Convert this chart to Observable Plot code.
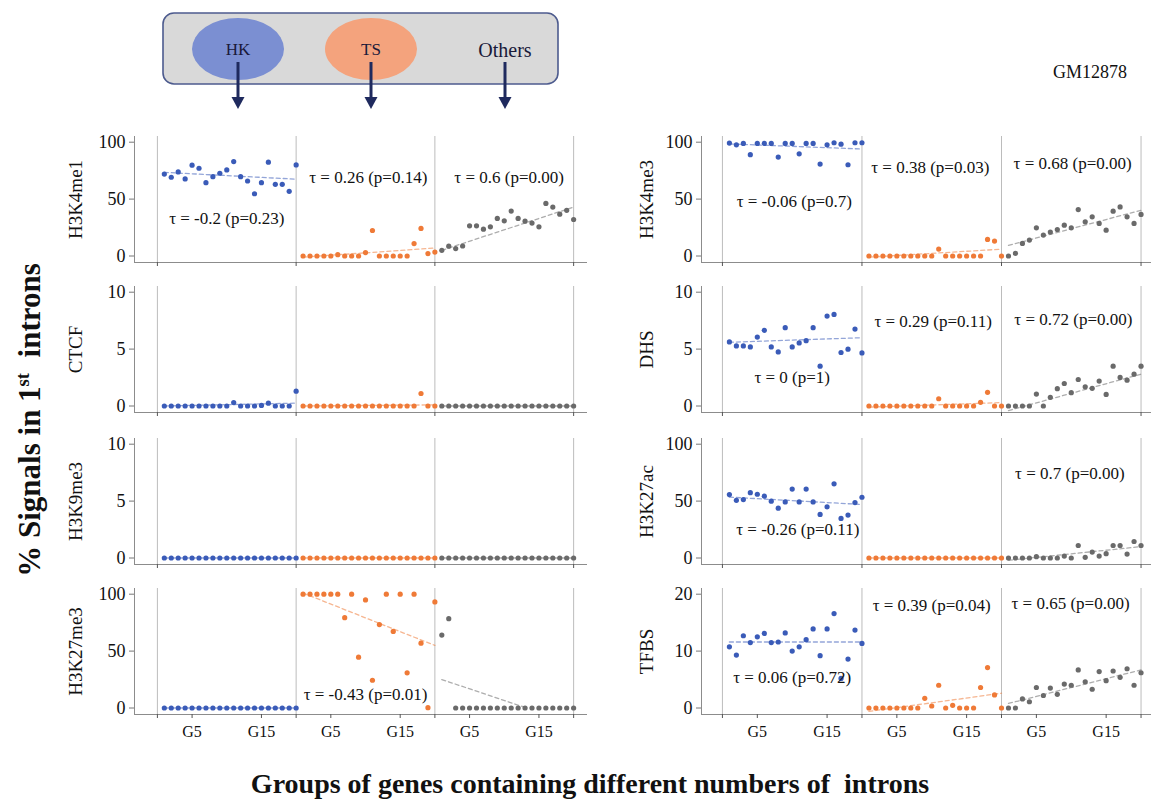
<!DOCTYPE html>
<html><head><meta charset="utf-8">
<script src="https://cdn.jsdelivr.net/npm/d3@7"></script>
<script src="https://cdn.jsdelivr.net/npm/@observablehq/plot@0.6"></script>
<style>
body{margin:0;background:#fff;}
#root{position:relative;width:1153px;height:799px;overflow:hidden;background:#fff;font-family:"Liberation Serif","Times New Roman",serif;color:#111;}
.panel{position:absolute;}
.panel svg{overflow:visible;}
.lbl{position:absolute;white-space:nowrap;transform:translate(-50%,-50%);}
sup{font-size:60%;vertical-align:super;line-height:0;}
</style></head><body><div id="root"></div>
<script>
// ---------- data ----------
const groups = ["HK", "TS", "Others"];
const cellLine = "GM12878";
const gTickLabels = ["G5", "G15"];

const h3k4me1HK = [72, 69.2, 73.9, 67.7, 79.8, 77.1, 64.4, 69.7, 72.7, 75.6, 83, 69.7, 65.9, 54.7, 64.4, 82.4, 63, 63, 56.8, 80];
const h3k4me1TS = [0, 0, 0, 0, 0, 1.2, 0, 0, 0, 3, 22.4, 0, 0, 0, 0, 0, 10.9, 24.2, 2.1, 3.5];
const h3k4me1Others = [5, 8.6, 6.5, 8.8, 26.5, 26.5, 23.6, 25.6, 33, 30.9, 39.5, 33, 30.6, 28.9, 25.6, 46.2, 43, 36.8, 40.1, 32.1];
const h3k4me1Trend = [[1, 73.5, 20, 67.5], [1, -1, 20, 7], [1, 5, 20, 43]];
const h3k4me1Notes = ["τ = -0.2 (p=0.23)", "τ = 0.26 (p=0.14)", "τ = 0.6 (p=0.00)"];

const h3k4me3HK = [99.2, 97.7, 98.9, 89, 98.9, 98.9, 98.9, 86.9, 98.9, 98.9, 89.8, 98.9, 98.9, 80.8, 97.7, 99.5, 98.3, 80.2, 99.5, 99.5];
const h3k4me3TS = [0, 0, 0, 0, 0, 0, 0, 0, 0, 0, 6.1, 0, 0, 0, 0, 0, 0, 14.6, 13.1, 0];
const h3k4me3Others = [0, 2.3, 11.1, 14, 24.8, 18.4, 21, 23.3, 27.1, 24.8, 40.8, 30, 34.4, 28.6, 22.7, 39.4, 43.1, 34.4, 28.6, 36.5];
const h3k4me3Trend = [[1, 98.5, 20, 94], [1, -1, 20, 6], [1, 9.3, 20, 40.2]];
const h3k4me3Notes = ["τ = -0.06 (p=0.7)", "τ = 0.38 (p=0.03)", "τ = 0.68 (p=0.00)"];

const ctcfHK = [0, 0, 0, 0, 0, 0, 0, 0, 0, 0, 0.3, 0, 0, 0, 0.05, 0.25, 0, 0, 0, 1.3];
const ctcfTS = [0, 0, 0, 0, 0, 0, 0, 0, 0, 0, 0, 0, 0, 0, 0, 0, 0, 1.1, 0, 0];
const ctcfOthers = [0, 0, 0, 0, 0, 0, 0, 0, 0, 0, 0, 0, 0, 0, 0, 0, 0, 0, 0, 0];
const ctcfTrend = [[1, 0, 20, 0.25], [1, 0, 20, 0.1], [1, 0, 20, 0]];
const ctcfNotes = [];

const dhsHK = [5.63, 5.28, 5.28, 5.19, 6.06, 6.65, 5.19, 4.75, 6.88, 5.19, 5.54, 5.74, 6.88, 3.5, 7.9, 8.05, 4.7, 4.99, 6.76, 4.66];
const dhsTS = [0, 0, 0, 0, 0, 0, 0, 0, 0, 0, 0.64, 0, 0, 0, 0, 0, 0.32, 1.2, 0, 0];
const dhsOthers = [0, 0, 0, 0, 1.05, 0, 0.76, 1.52, 1.98, 1.17, 2.33, 1.69, 1.55, 2.19, 1.02, 3.5, 2.51, 2.27, 2.8, 3.5];
const dhsTrend = [[1, 5.6, 20, 6.0], [1, -0.1, 20, 0.3], [1, -0.4, 20, 2.8]];
const dhsNotes = ["τ = 0 (p=1)", "τ = 0.29 (p=0.11)", "τ = 0.72 (p=0.00)"];

const h3k9me3HK = [0, 0, 0, 0, 0, 0, 0, 0, 0, 0, 0, 0, 0, 0, 0, 0, 0, 0, 0, 0];
const h3k9me3TS = [0, 0, 0, 0, 0, 0, 0, 0, 0, 0, 0, 0, 0, 0, 0, 0, 0, 0, 0, 0];
const h3k9me3Others = [0, 0, 0, 0, 0, 0, 0, 0, 0, 0, 0, 0, 0, 0, 0, 0, 0, 0, 0, 0];
const h3k9me3Trend = [[1, 0, 20, 0], [1, 0, 20, 0], [1, 0, 20, 0]];
const h3k9me3Notes = [];

const h3k27acHK = [55.7, 50.7, 51.3, 57.4, 56, 54.3, 49.9, 43.8, 49.3, 60.6, 49.3, 60.6, 49.3, 38.3, 45, 65.2, 34.8, 37.7, 48.7, 53.4];
const h3k27acTS = [0, 0, 0, 0, 0, 0, 0, 0, 0, 0, 0, 0, 0, 0, 0, 0, 0, 0, 0, 0];
const h3k27acOthers = [0, 0, 0, 0, 1.2, 0, 0, 0, 1.7, 0, 11, 0.6, 5.2, 1.7, 3.8, 11, 11, 3.5, 14.5, 11];
const h3k27acTrend = [[1, 53.5, 20, 47], [1, 0, 20, 0], [1, -2, 20, 10]];
const h3k27acNotes = ["τ = -0.26 (p=0.11)", "τ = 0.7 (p=0.00)"];

const h3k27me3HK = [0, 0, 0, 0, 0, 0, 0, 0, 0, 0, 0, 0, 0, 0, 0, 0, 0, 0, 0, 0];
const h3k27me3TS = [100, 100, 100, 100, 100, 100, 79.4, 100, 44.7, 95, 24.4, 73.3, 100, 67.3, 100, 30.9, 100, 57, 0.3, 93.2];
const h3k27me3Others = [64.1, 78.5, 0, 0, 0, 0, 0, 0, 0, 0, 0, 0, 0, 0, 0, 0, 0, 0, 0, 0];
const h3k27me3Trend = [[1, 0, 20, 0], [1, 101, 20, 55], [1, 25, 13, 0.5]];
const h3k27me3Notes = ["τ = -0.43 (p=0.01)"];

const tfbsHK = [10.75, 9.3, 12.7, 11.5, 12.5, 13.1, 11.5, 11.6, 13.2, 10, 10.75, 12, 13.9, 9.2, 13.9, 16.6, 5.2, 8.6, 13.7, 11.35];
const tfbsTS = [0, 0, 0, 0, 0, 0, 0, 0, 1.7, 0.35, 4, 0, 0.47, 0, 0, 0, 3.6, 7.1, 2.3, 0];
const tfbsOthers = [0, 0, 1.6, 1.1, 3.6, 2.2, 3.5, 2.4, 4.2, 4, 6.7, 4.6, 3.3, 6.4, 4.8, 6.5, 5.4, 6.9, 4, 6.2];
const tfbsTrend = [[1, 11.6, 20, 11.6], [1, -0.6, 20, 2.6], [1, 0.8, 20, 6.7]];
const tfbsNotes = ["τ = 0.06 (p=0.72)", "τ = 0.39 (p=0.04)", "τ = 0.65 (p=0.00)"];

// ---------- layout / style ----------
const dotColors = ["#3a5bb8", "#ef7a37", "#6a6a6a"];
const cols = [
  {L: 40, W: 557, ML: 94, MR: 10, xDom: [-3.3, 62], labelX: 75},
  {L: 590, W: 563, ML: 111, MR: 2, xDom: [-3, 61.5], labelX: 646}
];
const rowTop = [130, 280, 432, 582];
const PH = 126, MT = 6, MB = 30;
// note anchor positions in data units: [x, y] (per panel, per note)
const notePos = {
  H3K4me1: [[10, 33], [30.4, 69], [50.7, 69]],
  H3K4me3: [[10.3, 48], [29.8, 78], [50.2, 81.5]],
  DHS: [[10, 2.5], [30.2, 7.45], [50.3, 7.57]],
  H3K27ac: [[10.8, 25], [49.8, 74]],
  H3K27me3: [[30, 11.6]],
  TFBS: [[10, 5.3], [30, 18], [49.9, 18.4]]
};

const panels = [
  {name: "H3K4me1", col: 0, row: 0, max: 100, series: [h3k4me1HK, h3k4me1TS, h3k4me1Others], trend: h3k4me1Trend, notes: h3k4me1Notes},
  {name: "H3K4me3", col: 1, row: 0, max: 100, series: [h3k4me3HK, h3k4me3TS, h3k4me3Others], trend: h3k4me3Trend, notes: h3k4me3Notes},
  {name: "CTCF", col: 0, row: 1, max: 10, series: [ctcfHK, ctcfTS, ctcfOthers], trend: ctcfTrend, notes: ctcfNotes},
  {name: "DHS", col: 1, row: 1, max: 10, series: [dhsHK, dhsTS, dhsOthers], trend: dhsTrend, notes: dhsNotes},
  {name: "H3K9me3", col: 0, row: 2, max: 10, series: [h3k9me3HK, h3k9me3TS, h3k9me3Others], trend: h3k9me3Trend, notes: h3k9me3Notes},
  {name: "H3K27ac", col: 1, row: 2, max: 100, series: [h3k27acHK, h3k27acTS, h3k27acOthers], trend: h3k27acTrend, notes: h3k27acNotes},
  {name: "H3K27me3", col: 0, row: 3, max: 100, series: [h3k27me3HK, h3k27me3TS, h3k27me3Others], trend: h3k27me3Trend, notes: h3k27me3Notes},
  {name: "TFBS", col: 1, row: 3, max: 20, series: [tfbsHK, tfbsTS, tfbsOthers], trend: tfbsTrend, notes: tfbsNotes}
];

const root = document.getElementById("root");
const boundaries = [0, 20, 40, 60];
const bottomTicks = [0, 5, 15, 20, 25, 35, 40, 45, 55, 60];
const tickLabel = d => (d % 20 === 5 ? gTickLabels[0] : d % 20 === 15 ? gTickLabels[1] : "");

for (const p of panels) {
  const c = cols[p.col];
  const yDom = [-0.057 * p.max, 1.05 * p.max];
  const pts = [];
  p.series.forEach((vals, g) => vals.forEach((v, i) => pts.push({x: g * 20 + i + 1, y: v, group: groups[g]})));
  const trendPts = [];
  p.trend.forEach(([x1, y1, x2, y2], g) => {
    trendPts.push({x: g * 20 + x1, y: y1, group: groups[g]});
    trendPts.push({x: g * 20 + x2, y: y2, group: groups[g]});
  });
  const pos = notePos[p.name] || [];
  const notes = p.notes.map((t, i) => ({text: t, x: pos[i][0], y: pos[i][1]}));
  const bottom = p.row === 3;
  const chart = Plot.plot({
    width: c.W, height: PH + MT + MB,
    marginLeft: c.ML, marginRight: c.MR, marginTop: MT, marginBottom: MB,
    x: {domain: c.xDom, axis: null},
    y: {domain: yDom, axis: null},
    color: {domain: groups, range: dotColors},
    style: {background: "transparent", fontFamily: "Liberation Serif, Times New Roman, serif", overflow: "visible", color: "#111"},
    marks: [
      Plot.ruleX(boundaries, {stroke: "#bcbcbc", strokeWidth: 1}),
      Plot.ruleX([c.xDom[0]], {stroke: "#8c8c8c", strokeWidth: 1}),
      Plot.ruleY([yDom[0]], {stroke: "#8c8c8c", strokeWidth: 1}),
      Plot.axisY({ticks: [0, p.max / 2, p.max], tickSize: 5, tickPadding: 4, fontSize: 18, stroke: "#777", fill: "#111", label: null, tickFormat: d => String(d)}),
      Plot.axisX({ticks: bottom ? bottomTicks : boundaries, tickSize: 4, tickPadding: 7, fontSize: 16, stroke: "#555", fill: "#111", label: null, tickFormat: bottom ? tickLabel : () => ""}),
      Plot.line(trendPts, {x: "x", y: "y", z: "group", stroke: "group", strokeOpacity: 0.55, strokeDasharray: "4,3", strokeWidth: 1.3}),
      Plot.dot(pts, {x: "x", y: "y", r: 2.6, fill: "group"}),
      Plot.text(notes, {x: "x", y: "y", text: "text", fontSize: 17, fill: "#111"}),
      Plot.text([p.name], {frameAnchor: "left", textAnchor: "middle", text: d => d, rotate: -90, dx: c.labelX - (c.L + c.ML), fontSize: 19, fill: "#111"})
    ]
  });
  const div = document.createElement("div");
  div.className = "panel";
  div.style.left = c.L + "px";
  div.style.top = rowTop[p.row] + "px";
  div.appendChild(chart);
  root.appendChild(div);
}

// ---------- top group diagram (legend) ----------
const ns = "http://www.w3.org/2000/svg";
const legend = document.createElementNS(ns, "svg");
legend.setAttribute("width", 1153);
legend.setAttribute("height", 120);
legend.style.position = "absolute";
legend.style.left = "0px";
legend.style.top = "0px";
const legendX = [238, 371, 505];
const fillOf = ["#7b8fd2", "#f4a37d", null];
let html = `<rect x="163" y="13" width="395" height="71" rx="11" fill="#d9d9d9" stroke="#4d5b8e" stroke-width="1.6"/>`;
groups.forEach((g, i) => {
  const x = legendX[i];
  if (fillOf[i]) html += `<ellipse cx="${x}" cy="49" rx="46" ry="31" fill="${fillOf[i]}"/>`;
  html += `<text x="${x}" y="${i === 2 ? 57 : 55}" text-anchor="middle" font-family="Liberation Serif" font-size="${i === 2 ? 20 : 17}" fill="#1a1a3a">${g}</text>`;
  html += `<line x1="${x}" y1="62" x2="${x}" y2="98" stroke="#1f2a5e" stroke-width="3"/>`;
  html += `<polygon points="${x - 6.5},97 ${x + 6.5},97 ${x},109" fill="#1f2a5e"/>`;
});
legend.innerHTML = html;
root.appendChild(legend);

// ---------- titles ----------
function addLabel(htmlText, x, y, css) {
  const d = document.createElement("div");
  d.className = "lbl";
  d.innerHTML = htmlText;
  d.style.left = x + "px";
  d.style.top = y + "px";
  Object.assign(d.style, css || {});
  root.appendChild(d);
  return d;
}
addLabel(cellLine, 1090, 72, {fontSize: "18px"});
addLabel("% Signals in 1<sup>st</sup>&nbsp; introns", 30, 420, {fontSize: "31px", fontWeight: "bold", transform: "translate(-50%,-50%) rotate(-90deg)"});
addLabel("Groups of genes containing different numbers of &nbsp;introns", 590, 784, {fontSize: "28px", fontWeight: "bold"});
</script>
</body></html>
